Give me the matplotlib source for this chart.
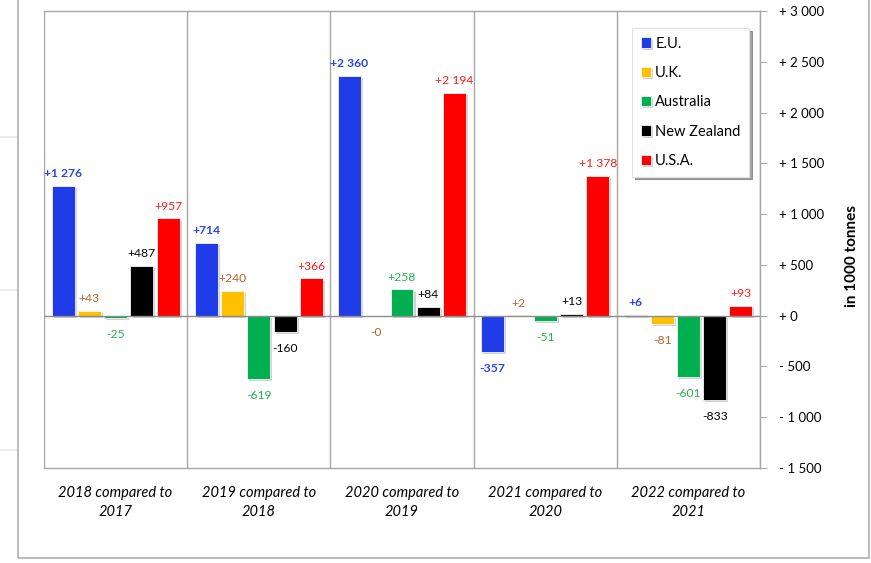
import matplotlib
matplotlib.use("Agg")
import matplotlib.pyplot as plt
import matplotlib.patheffects as pe
from matplotlib.patches import Rectangle
from matplotlib.lines import Line2D
import numpy as np

plt.rcParams['font.family'] = ['Lato', 'DejaVu Sans']

categories = ["2018 compared to\n2017", "2019 compared to\n2018", "2020 compared to\n2019",
              "2021 compared to\n2020", "2022 compared to\n2021"]
series_names = ["E.U.", "U.K.", "Australia", "New Zealand", "U.S.A."]
eu = [1276, 714, 2360, -357, 6]
uk = [43, 240, -0.2, 2, -81]
australia = [-25, -619, 258, -51, -601]
new_zealand = [487, -160, 84, 13, -833]
usa = [957, 366, 2194, 1378, 93]
y_ticks = [3000, 2500, 2000, 1500, 1000, 500, 0, -500, -1000, -1500]

series_values = [eu, uk, australia, new_zealand, usa]
bar_colors = ["#1f3ce8", "#ffc000", "#00b050", "#000000", "#ff0000"]
label_colors = ["#2a45e6", "#b0652a", "#22b452", "#000000", "#ff1a1a"]
label_weights = ["bold", "normal", "normal", "normal", "normal"]


def fmt_change(v):
    return f"{v:+,.0f}".replace(",", " ")


def fmt_tick(v):
    sign = "+ " if v >= 0 else "- "
    return sign + f"{abs(v):,.0f}".replace(",", " ")


fig = plt.figure(figsize=(8.71, 5.63), dpi=100)
ax = fig.add_axes([44 / 871, 1 - 468 / 563, 716 / 871, 457 / 563])

x = np.arange(len(categories))
pitch = 0.1835
width = 0.16
shadow = [pe.SimplePatchShadow(offset=(1.5, -1.5), shadow_rgbFace="#808080", alpha=0.35), pe.Normal()]

for i, (name, vals) in enumerate(zip(series_names, series_values)):
    pos = x + (i - 2) * pitch
    bars = ax.bar(pos, vals, width, color=bar_colors[i], label=name,
                  edgecolor="#f4f4f4", linewidth=0.6, zorder=3)
    for b in bars:
        b.set_path_effects(shadow)
    for px, v in zip(pos, vals):
        if v >= 0:
            off, va = 5, "bottom"
        else:
            off, va = -8, "top"
        ax.annotate(fmt_change(v), (px, v), xytext=(0, off), textcoords="offset points",
                    ha="center", va=va, fontsize=8.7, color=label_colors[i],
                    fontweight=label_weights[i], zorder=5)

ax.set_xlim(-0.5, len(categories) - 0.5)
ax.set_ylim(-1500, 3000)

# group separators and zero line
for b in np.arange(-0.5, len(categories), 1.0):
    ax.axvline(b, color="#a6a6a6", linewidth=1.0, zorder=1)
ax.axhline(0, color="#8c8c8c", linewidth=1.0, zorder=4)

for side in ["left", "right", "top", "bottom"]:
    ax.spines[side].set_color("#a6a6a6")
    ax.spines[side].set_linewidth(1.0)
ax.spines["left"].set_visible(False)

ax.yaxis.tick_right()
ax.set_yticks(y_ticks)
ax.set_yticklabels([fmt_tick(v) for v in y_ticks], fontsize=9.5)
ax.tick_params(axis="y", direction="out", length=5, color="#a6a6a6", pad=9)
ax.yaxis.set_label_position("right")
ax.set_ylabel("in 1000 tonnes", fontsize=11, fontweight="bold", rotation=90)
ax.yaxis.set_label_coords(1.119, 0.464)

ax.set_xticks(x)
ax.set_xticklabels(categories, fontsize=10.5, fontstyle="italic", linespacing=1.45)
ax.tick_params(axis="x", length=0, pad=13)

leg = ax.legend(loc="upper left", bbox_to_anchor=(0.821, 0.963), borderaxespad=0,
                frameon=True, shadow=True, fancybox=False, fontsize=10.5,
                handlelength=0.7, handleheight=0.7, handletextpad=0.3,
                labelspacing=1.05, borderpad=0.6, edgecolor="#e0e0e0")
leg.get_frame().set_linewidth(0.8)

# outer chart frame and faint page lines
fig.add_artist(Rectangle((18 / 871, 1 - 558 / 563), (869 - 18) / 871, 600 / 563,
                         transform=fig.transFigure, fill=False, edgecolor="#b0b0b0",
                         linewidth=1.2))
for yy in [137, 290, 450]:
    fig.add_artist(Line2D([0, 16 / 871], [1 - yy / 563] * 2, transform=fig.transFigure,
                          color="#ececec", linewidth=1.5))

fig.savefig("out.png", dpi=100)
